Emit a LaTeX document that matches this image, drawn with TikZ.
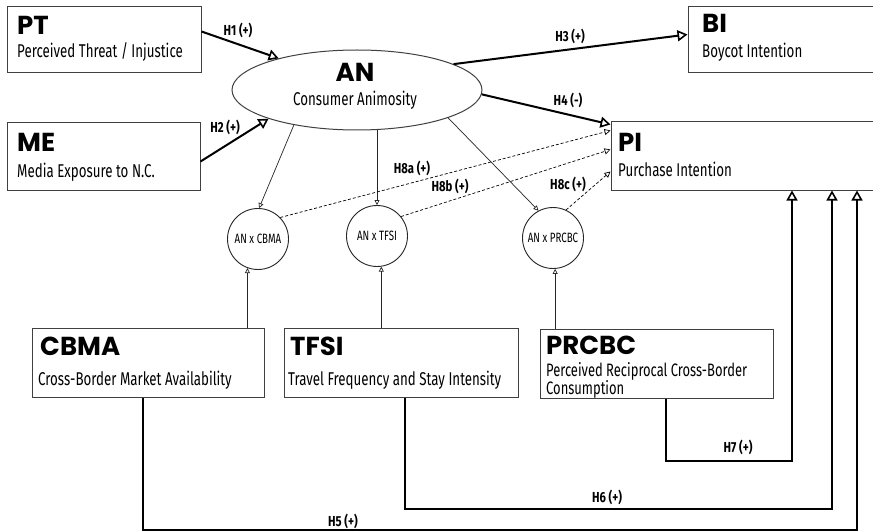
\documentclass[tikz,border=0pt]{standalone}
\usepackage{fontspec}
\setmainfont{Fira Sans}
\newfontfamily\subf{Fira Sans}[FakeStretch=0.72]
\newfontfamily\titf{Poppins}
\newfontfamily\labf{Fira Sans}[FakeStretch=0.78]
\usetikzlibrary{arrows.meta,shapes.geometric,calc}
\begin{document}
\begin{tikzpicture}[x=1pt,y=-1pt,
  box/.style={draw=black!75, line width=1pt, inner sep=0},
  ttl/.style={anchor=base west, inner sep=0, text depth=0pt, font=\titf\bfseries\fontsize{26}{26}\selectfont},
  sub/.style={anchor=base west, inner sep=0, font=\subf\fontsize{18.5}{18.5}\selectfont},
  hlab/.style={inner sep=0, font=\labf\bfseries\fontsize{14.5}{14.5}\selectfont},
  circ/.style={draw=black!85, circle, line width=0.9pt, minimum size=61pt, inner sep=0,
    font=\subf\fontsize{13.5}{13.5}\selectfont},
  big/.style={line width=2pt, -{Triangle[open, length=10pt, width=11pt, line width=1.6pt]}},
  thinarrow/.style={line width=0.7pt, draw=black!85, -{Triangle[open, length=5pt, width=5pt, line width=0.7pt]}},
  dsh/.style={line width=0.7pt, dash pattern=on 3pt off 2pt, -{Triangle[open, length=6pt, width=6pt, line width=0.7pt]}}
]
\useasboundingbox (0,0) rectangle (873,532);
\clip (0,0) rectangle (873,532);
\fill[white] (0,0) rectangle (873,532);

% boxes
\node[box, minimum width=194pt, minimum height=66pt] (pt) at (104,40) {};
\node[box, minimum width=193pt, minimum height=67pt] (me) at (103.5,156.5) {};
\node[box, minimum width=192pt, minimum height=66pt] (bi) at (784,40) {};
\node[box, minimum width=269pt, minimum height=68pt] (pi) at (745.5,156) {};
\node[box, minimum width=232pt, minimum height=69pt] (cbma) at (148,362.5) {};
\node[box, minimum width=234pt, minimum height=69pt] (tfsi) at (401,362.5) {};
\node[box, minimum width=233pt, minimum height=69pt] (prcbc) at (656.5,363.5) {};
\node[draw=black!75, line width=1pt, ellipse, minimum width=250pt, minimum height=80pt, inner sep=0] (an) at (357,90) {};

% circles
\node[circ] (c1) at (258,239) {AN x CBMA};
\node[circ] (c2) at (377,236) {AN x TFSI};
\node[circ] (c3) at (553,238) {AN x PRCBC};

% texts
\node[ttl] (ptT) at (17,35) {PT};
\node[sub] (ptS) at (17,58) {Perceived Threat / Injustice};
\node[ttl] (meT) at (17,152) {ME};
\node[sub] (meS) at (17,178) {Media Exposure to N.C.};
\node[ttl] (biT) at (702,33) {BI};
\node[sub] (biS) at (702,58) {Boycot Intention};
\node[ttl] (piT) at (618,152) {PI};
\node[sub] (piS) at (618,177) {Purchase Intention};
\node[ttl, anchor=base] (anT) at (355,82) {AN};
\node[sub, anchor=base] (anS) at (355,106) {Consumer Animosity};
\node[ttl] (cbmaT) at (40,355) {CBMA};
\node[sub] (cbmaS) at (38,385) {Cross-Border Market Availability};
\node[ttl] (tfsiT) at (290,355) {TFSI};
\node[sub] (tfsiS) at (288,385) {Travel Frequency and Stay Intensity};
\node[ttl] (prcbcT) at (546,354) {PRCBC};
\node[sub, font=\subf\fontsize{18}{18}\selectfont] (prcbcS1) at (546,376.5) {Perceived Reciprocal Cross-Border};
\node[sub, font=\subf\fontsize{18}{18}\selectfont] (prcbcS2) at (546,394) {Consumption};

% hypothesis labels
\node[hlab] (l1) at (238,30) {H1 (+)};
\node[hlab] (l2) at (225,127) {H2 (+)};
\node[hlab] (l3) at (570,36) {H3 (+)};
\node[hlab] (l4) at (568,100) {H4 (-)};
\node[hlab] (l8a) at (412,168) {H8a (+)};
\node[hlab] (l8b) at (450,186) {H8b (+)};
\node[hlab] (l8c) at (568,184) {H8c (+)};
\node[hlab] (l7) at (738,447) {H7 (+)};
\node[hlab] (l6) at (607,497) {H6 (+)};
\node[hlab] (l5) at (343,521) {H5 (+)};

% main effects
\draw[big] ($(pt.north east)+(0,25)$) -- (an.158);
\draw[big] ($(me.north east)+(0,39)$) -- (an.198.6);
\draw[big] (an.15) -- ($(bi.north west)+(0,28)$);
\draw[big] (an.-2) -- ($(pi.north west)+(0,3)$);

% AN to interaction terms
\draw[thinarrow] (an.209.6) -- (c1.88);
\draw[thinarrow] (c2.north |- an.south) -- (c2.north);
\draw[thinarrow] (an.-17) -- (c3.118);

% moderators to interaction terms
\draw[thinarrow] (c1.250 |- cbma.north) -- (c1.250);
\draw[thinarrow] (c2.278 |- tfsi.north) -- (c2.278);
\draw[thinarrow] (c3.274 |- prcbc.north) -- (c3.274);

% interaction effects
\draw[dsh] (c1.44) -- ($(pi.north west)+(0,9)$);
\draw[dsh] (c2.39) -- ($(pi.north west)+(0,28)$);
\draw[dsh] (c3.65) -- ($(pi.north west)+(0,50)$);

% direct moderator effects
\coordinate (k7) at (666,461); \coordinate (k7r) at (792,461);
\coordinate (k6) at (405,509); \coordinate (k6r) at (832,509);
\coordinate (k5) at (143,530); \coordinate (k5r) at (857,530);
\draw[big] (k7 |- prcbc.south) -- (k7) -- (k7r) -- (k7r |- pi.south);
\draw[big] (k6 |- tfsi.south) -- (k6) -- (k6r) -- (k6r |- pi.south);
\draw[big] (k5 |- cbma.south) -- (k5) -- (k5r) -- (k5r |- pi.south);
\end{tikzpicture}
\end{document}
